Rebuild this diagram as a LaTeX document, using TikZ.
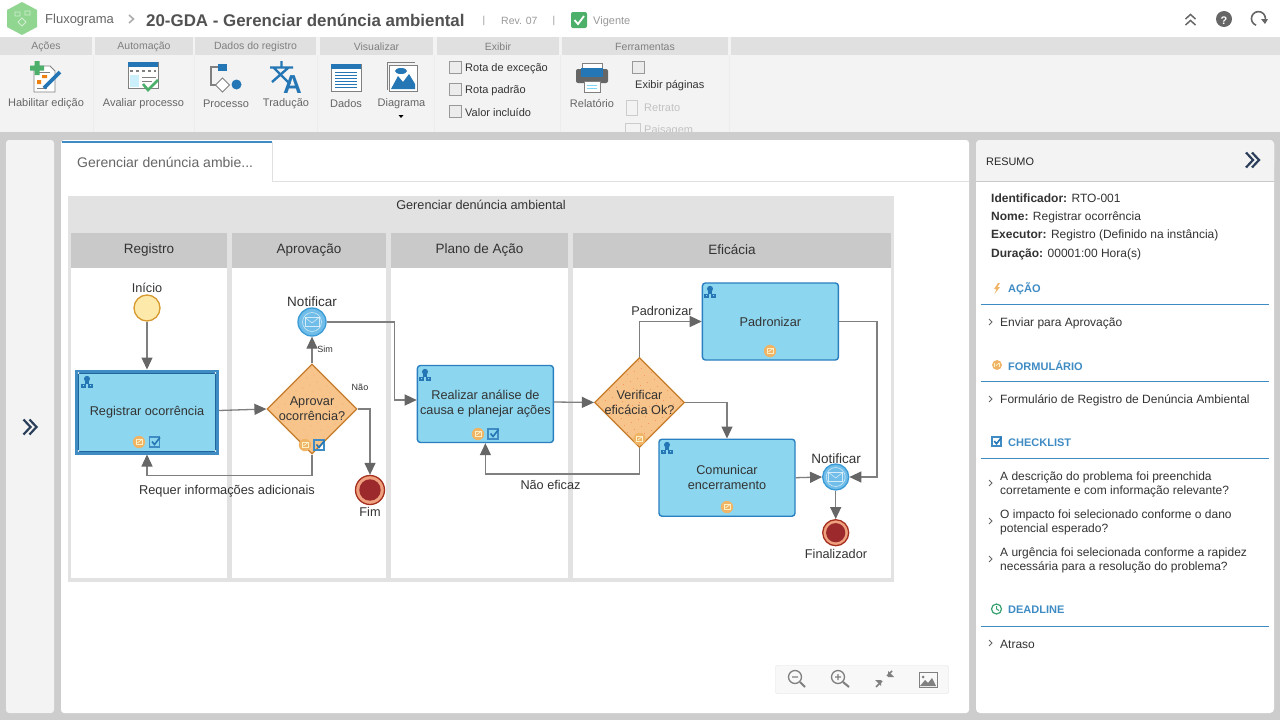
\documentclass[tikz,border=0pt]{standalone}
\usepackage{fontspec}
\setmainfont{Liberation Sans}
\usetikzlibrary{arrows.meta,shapes.geometric}
\definecolor{pagegray}{HTML}{CDCDCD}
\definecolor{stripgray}{HTML}{E0E0E0}
\definecolor{ribbongray}{HTML}{F3F3F3}
\definecolor{lanegray}{HTML}{C9C9C9}
\definecolor{poolgray}{HTML}{E2E2E2}
\definecolor{taskblue}{HTML}{8CD7EF}
\definecolor{edgeblue}{HTML}{2A7FC0}
\definecolor{iconblue}{HTML}{2576B4}
\definecolor{headblue}{HTML}{3F8CC4}
\definecolor{gateorange}{HTML}{F7C48B}
\definecolor{gateedge}{HTML}{C57D2A}
\definecolor{formorange}{HTML}{F0B466}
\definecolor{flowgray}{HTML}{7F7F7F}
\definecolor{tipgray}{HTML}{666666}
\definecolor{inktext}{HTML}{333333}
\definecolor{midtext}{HTML}{666666}
\definecolor{softtext}{HTML}{999999}
\definecolor{greencheck}{HTML}{4CAF6A}
\definecolor{startfill}{HTML}{FDE9A9}
\definecolor{startedge}{HTML}{D89A30}
\definecolor{endedge}{HTML}{A5301F}
\definecolor{endring}{HTML}{EFA07E}
\definecolor{endcore}{HTML}{9C2A2C}
\definecolor{msgfill}{HTML}{6FBDE8}
\definecolor{msgedge}{HTML}{3A9BD6}
\definecolor{chevrondark}{HTML}{2B3F5A}
\newcommand{\fsz}[1]{\fontsize{#1}{15}\selectfont}
\tikzset{
  uitext/.style={inner sep=0pt,anchor=west,yshift=-1pt,text=midtext,font=\fsz{11}},
  midui/.style={uitext,anchor=center},
  panelkey/.style={uitext,text=inktext,font=\fsz{12}},
  panelhead/.style={uitext,text=headblue,font=\fsz{11}\bfseries},
  headrule/.style={draw=headblue,line width=1pt},
  boxcheck/.style={draw=gray!80,fill=stripgray!60,line width=.8pt},
  dtext/.style={inner sep=0pt,text=inktext,font=\fsz{12.7},align=center},
  tasknode/.style={draw=edgeblue,fill=taskblue,line width=1.4pt,rounded corners=3pt,minimum width=136pt,minimum height=77pt,inner sep=0pt,text=inktext,font=\fsz{12.7},align=center},
  gatenode/.style={diamond,aspect=1,draw=gateedge,fill=gateorange,line width=1.2pt,minimum width=90pt,minimum height=90pt,inner sep=0pt,
    path picture={\foreach \i in {-6,...,6}{\foreach \j in {-6,...,6}{
      \fill[red!45!orange!70] ([shift={(\i*7+\j*3,\j*7-\i*3)}]path picture bounding box.center) circle (.35pt);}}}},
  startnode/.style={circle,draw=startedge,fill=startfill,line width=1.3pt,minimum size=26pt,inner sep=0pt},
  endnode/.style={circle,draw=endedge,fill=endring,line width=1.3pt,minimum size=#1,inner sep=0pt,
    path picture={\fill[endcore] (path picture bounding box.center) circle (.37*#1);}},
  msgnode/.style={circle,draw=msgedge,fill=msgfill,line width=1.3pt,minimum size=#1,inner sep=0pt},
  flow/.style={draw=flowgray,line width=1.3pt,-{Triangle[length=12pt,width=11pt,color=tipgray]}},
  personicon/.pic={
    \fill[iconblue] (0,-3.2) circle (3pt);
    \fill[iconblue] (-2.4,-1) rectangle (2.4,1.5);
    \fill[iconblue] (-6,1.5) rectangle (-1,6);
    \fill[iconblue] (1,1.5) rectangle (6,6);
    \fill[taskblue] (-4,3.2) rectangle (-3,4.2) (3,3.2) rectangle (4,4.2);
  },
  formicon/.pic={
    \fill[formorange] (0,0) circle (6.2pt);
    \fill[startfill!70!white] (-3.5,-3) rectangle (3.5,3);
    \fill[formorange] (-2.5,-2) rectangle (2.5,2);
    \draw[startfill!50!white,line width=.7pt] (-1.5,.8) -- (3,-2.5);
  },
  checkicon/.pic={
    \draw[headblue,line width=1.2pt] (-5,-5) rectangle (5,5);
    \draw[iconblue,line width=1.6pt] (-2.5,-.5) -- (0,2.5) -- (5.5,-4.5);
  },
  envelopeicon/.pic={
    \draw[white,opacity=.6,line width=.7pt] (0,0) circle (9.5pt);
    \draw[white,opacity=.7,line width=.6pt] (-7,-4.5) rectangle (7,4.5);
    \draw[white,opacity=.7,line width=.6pt] (-7,-4.5) -- (0,1) -- (7,-4.5);
  },
  twochevrons/.pic={
    \draw[line width=2.2pt] (-6.5,-7.5) -- (0.5,0) -- (-6.5,7.5);
    \draw[line width=2.2pt] (-.5,-7.5) -- (6.5,0) -- (-.5,7.5);
  },
  itemchevron/.pic={
    \draw[midtext,line width=.8pt] (-1.5,-3) -- (1.5,0) -- (-1.5,3);
  },
}
\begin{document}
\begin{tikzpicture}[x=1pt,y=-1pt]
  \useasboundingbox (0,0) rectangle (1280,720);
  \fill[pagegray] (0,0) rectangle (1280,720);
  \fill[white] (0,0) rectangle (1280,37);
  \fill[ribbongray] (0,37) rectangle (1280,132);
%
  \fill[green!45!gray!60!white] (22,2) -- (37,10) -- (37,27) -- (22,35) -- (7,27) -- (7,10) -- cycle;
  \draw[white,line width=.8pt,opacity=.6] (15,12) rectangle (20,16) (25,11) rectangle (30,15) (22,18) -- (26,22) -- (22,26) -- (18,22) -- cycle;
  \draw (45,19) node[uitext,font=\fsz{13}] (fluxo) {Fluxograma};
  \draw[softtext!80!white,line width=1.6pt] (129,15) -- (133.5,19) -- (129,23);
  \draw (146,19) node[uitext,text=inktext!85!white,font=\fsz{16.9}\bfseries] (titulo) {20-GDA - Gerenciar denúncia ambiental};
  \draw (484,20) node[midui,font=\fsz{10},text=softtext] (sep1) {|};
  \draw (501,20) node[uitext,font=\fsz{10.5},text=softtext] (rev) {Rev. 07};
  \draw (554,20) node[midui,font=\fsz{10},text=softtext] (sep2) {|};
  \fill[greencheck,rounded corners=2pt] (571,12) rectangle (587,28);
  \draw[white,line width=1.8pt] (574.5,20) -- (578,24) -- (584,16);
  \draw (593,20.5) node[uitext,font=\fsz{11},text=softtext] (vigente) {Vigente};
%
  \draw[midtext,line width=1.5pt] (1185.5,19) -- (1190.5,14.5) -- (1195.5,19) (1185.5,25) -- (1190.5,20.5) -- (1195.5,25);
  \fill[midtext] (1224,19) circle (8pt);
  \draw (1224,20) node[midui,text=white,font=\fsz{11}\bfseries] (ajuda) {?};
  \draw[midtext,line width=1.6pt] (1265,21) arc (-20:250:7pt);
  \fill[midtext] (1261,19) -- (1268,19) -- (1265,24) -- cycle;
%
  \foreach \xa/\xb/\lbl in {0/92/Ações,95/193/Automação,195/316/Dados do registro,320/433/Visualizar,437/559/Exibir,562/728/Ferramentas}{
    \fill[stripgray] (\xa,37) rectangle (\xb,55);
    \draw[stripgray!60,line width=.8pt] (\xb+1,55) -- (\xb+1,132);
    \draw ({(\xa+\xb)/2},46) node[midui,font=\fsz{10.5},text=gray] {\lbl};
  }
  \fill[stripgray] (731,37) rectangle (1280,55);
%
  \draw (46,103) node[midui] (habilitar) {Habilitar edição};
  \draw (143.5,103) node[midui] (avaliar) {Avaliar processo};
  \draw (226,103) node[midui] (processo) {Processo};
  \draw (286,103) node[midui] (traducao) {Tradução};
  \draw (346,103) node[midui] (dados) {Dados};
  \draw (401.5,103) node[midui] (diagrama) {Diagrama};
  \fill[black] (398.5,115) -- (403.5,115) -- (401,118) -- cycle;
  \draw (592,103) node[midui] (relatorio) {Relatório};
%
  \foreach \yy/\lbl in {67/Rota de exceção,89/Rota padrão,111/Valor incluído}{
    \draw[boxcheck] (449,\yy-6) rectangle (461,\yy+6);
    \draw (465,\yy+.5) node[uitext,text=inktext] {\lbl};
  }
  \draw[boxcheck] (632,61) rectangle (644,73);
  \draw (635,84.5) node[uitext,text=inktext] (paginas) {Exibir páginas};
  \draw[softtext!50!white] (626,100) rectangle (637,115);
  \draw (644,107) node[uitext,text=softtext!60!white] (retrato) {Retrato};
  \draw[softtext!50!white] (625,123) rectangle (640,135);
  \draw (644,129.5) node[uitext,text=softtext!60!white] (paisagem) {Paisagem};
%
  \draw[gray,fill=white,line width=.8pt] (34,66) -- (50,66) -- (55,71) -- (55,92) -- (34,92) -- cycle;
  \fill[orange!70!brown] (37,80) rectangle (41,84) (42,75) rectangle (47,78);
  \draw[gray,line width=.7pt] (37,72) -- (50,72) (37,88) -- (47,88);
  \fill[greencheck] (34.5,61) rectangle (39.5,75) (30,65.5) rectangle (44,70.5);
  \draw[iconblue,line width=3.6pt] (44,88) -- (60,72);
%
  \draw[gray,fill=white,line width=.8pt] (128,62) rectangle (158,88);
  \fill[iconblue] (128,62) rectangle (158,67);
  \fill[cyan!20!white] (130,75) rectangle (139,87);
  \draw[gray,line width=.7pt] (142,77) -- (156,77) (142,81) -- (152,81);
  \draw[gray,dashed,line width=1.2pt] (130,71) -- (156,71);
  \draw[greencheck,line width=2.6pt] (143,84) -- (148,90) -- (158,80);
%
  \draw[gray,line width=2pt] (218,67) -- (211,67) -- (211,85) -- (218,85);
  \fill[iconblue] (218,64) rectangle (227,71);
  \draw[gray,fill=white,line width=1pt] (222.5,78) -- (229.5,85) -- (222.5,92) -- (215.5,85) -- cycle;
  \fill[iconblue] (236.5,84.5) circle (5pt);
  \draw[iconblue,line width=2.4pt] (270,67.5) -- (293,67.5) (281.5,61) -- (281.5,67) (274,68) -- (290,84) (288,68) -- (272,82);
  \draw (292.5,83.5) node[midui,text=iconblue,font=\fsz{26}\bfseries] (atext) {A};
%
  \draw[gray,fill=white,line width=.8pt] (331,64) rectangle (361,91);
  \fill[iconblue] (331,64) rectangle (361,69);
  \foreach \yy in {72,75,78,81,84,87}{ \draw[iconblue,line width=.9pt] (335,\yy) -- (357,\yy); }
  \draw[gray,line width=.8pt] (387,90) -- (387,62.5) -- (415,62.5);
  \draw[gray,fill=white,line width=.8pt] (389,65) rectangle (417,91);
  \fill[iconblue] (391,89) -- (398,76) -- (403,82) -- (409,74) -- (415,84) -- (415,89) -- cycle;
  \fill[iconblue] (401,71) ellipse (6pt and 3pt);
%
  \fill[tipgray,rounded corners=2pt] (576,69) rectangle (608,83);
  \draw[gray,fill=white,line width=.7pt] (582,63) rectangle (602,70);
  \fill[iconblue] (581,68) rectangle (603,77);
  \draw[gray,fill=white,line width=.7pt] (584,81) rectangle (600,92);
  \draw[cyan!50!white,line width=.8pt] (587,85) -- (597,85) (587,88) -- (597,88);
%
  \fill[pagegray] (0,132) rectangle (1280,140);
  \fill[ribbongray,rounded corners=3pt] (6,140) rectangle (54,713);
  \pic[chevrondark] at (30,427) {twochevrons};
  \fill[white,rounded corners=3pt] (61,140) rectangle (969,713);
  \fill[white,rounded corners=4pt] (976,140) rectangle (1274,713);
%
  \draw[stripgray,line width=1pt] (272,181) -- (969,181);
  \draw[stripgray,line width=1pt] (272,142) -- (272,181);
  \draw[headblue,line width=2.4pt] (62,142) -- (272,142);
  \draw (77,161) node[uitext,font=\fsz{14}] (aba) {Gerenciar denúncia ambie...};
%
  \fill[poolgray] (68,196) rectangle (894,582);
  \foreach \xa/\xb/\lbl in {71/227/Registro,232/386/Aprovação,391/568/Plano de Ação,573/891/Eficácia}{
    \fill[lanegray] (\xa,233) rectangle (\xb,268);
    \fill[white] (\xa,268) rectangle (\xb,578);
    \draw ({(\xa+\xb)/2},250) node[dtext,font=\fsz{13.5}] {\lbl};
  }
  \draw (481,205) node[dtext] (pooltitle) {Gerenciar denúncia ambiental};
%
  \draw (147,308) node[startnode] (inicio) {};
  \draw (147,412) node[tasknode,sharp corners,draw=headblue,line width=4pt,minimum width=140pt,minimum height=81pt] (registrar) {Registrar ocorrência};
  \draw (312,409) node[gatenode,label={[dtext]center:Aprovar\\ocorrência?}] (aprovar) {};
  \draw (312,322) node[msgnode=28pt] (notificara) {};
  \draw (370,490) node[endnode=29pt] (fim) {};
  \draw (485.4,404) node[tasknode] (realizar) {Realizar análise de\\causa e planejar ações};
  \draw (639.5,402.5) node[gatenode,label={[dtext]center:Verificar\\eficácia Ok?}] (verificar) {};
  \draw (770.4,321.5) node[tasknode] (padronizar) {Padronizar};
  \draw (727,477.7) node[tasknode] (comunicar) {Comunicar\\encerramento};
  \draw (835.7,477) node[msgnode=26pt] (notificarb) {};
  \draw (835.7,532.7) node[endnode=26pt] (finalizador) {};
%
  \draw[edgeblue!80!black,line width=.8pt] ([shift={(3.5,-3.5)}]registrar.south west) rectangle ([shift={(-3.5,3.5)}]registrar.north east);
  \foreach \anc/\sx/\sy in {north west/3.5/-3.5,north east/-3.5/-3.5,south west/3.5/3.5,south east/-3.5/3.5}{
    \fill[white] ([xshift=\sx pt,yshift=\sy pt]registrar.\anc) circle (.9pt);
  }
%
  \draw (147,288) node[dtext] (inicio text) {Início};
  \draw (312,302) node[dtext,font=\fsz{13.5}] (notificara text) {Notificar};
  \draw (370,512) node[dtext] (fim text) {Fim};
  \draw (836,459) node[dtext,font=\fsz{13.5}] (notificarb text) {Notificar};
  \draw (836,554) node[dtext] (finalizador text) {Finalizador};
  \draw (325,349.5) node[dtext,font=\fsz{9}] (sim text) {Sim};
  \draw (360,387) node[dtext,font=\fsz{9}] (nao text) {Não};
  \draw (227,491.5) node[dtext,font=\fsz{12.8}] (requer text) {Requer informações adicionais};
  \draw (550.5,485) node[dtext] (ineficaz text) {Não eficaz};
  \draw (662,311) node[dtext] (padroniza text) {Padronizar};
%
  \draw[flow] (inicio) -- (registrar);
  \draw[flow] ([yshift=1.5pt]registrar.east) -- (aprovar.west);
  \draw[flow] (aprovar.north) -- (notificara.south);
  \draw[flow] (notificara.east) -- ++(68,0) |- ([yshift=4pt]realizar.west);
  \draw[flow] (aprovar.east) -| (fim.north);
  \draw[flow] (aprovar.south) -- ++(0,21) -| (registrar.south);
  \draw[flow] ([yshift=2pt]realizar.east) -- (verificar.west);
  \draw[flow] (verificar.north) |- (padronizar.west);
  \draw[flow] (verificar.east) -| (comunicar.north);
  \draw[flow] (verificar.south) -- ++(0,26) -| (realizar.south);
  \draw[flow] (padronizar.east) -- ++(38,0) |- (notificarb.east);
  \draw[flow] (comunicar.east) -- (notificarb.west);
  \draw[flow] (notificarb.south) -- (finalizador.north);
%
  \pic at (312,322) {envelopeicon};
  \pic at (835.7,477) {envelopeicon};
  \foreach \xx/\yy in {87/382,425/375,710/292,667/448}{ \pic at (\xx,\yy) {personicon}; }
  \foreach \xx/\yy in {139/442,305/445,478/434,639.5/439,770/351,727/507}{ \pic at (\xx,\yy) {formicon}; }
  \foreach \xx/\yy in {154.5/442,319/445,493/434}{ \pic at (\xx,\yy) {checkicon}; }
%
  \fill[ribbongray,rounded corners=4pt] (976,140) rectangle (1274,170);
  \fill[ribbongray] (976,160) rectangle (1274,181);
  \draw[lanegray,line width=1pt] (976,181) -- (1274,181);
  \draw (986,160.5) node[uitext,text=black!85,font=\fsz{10.9}] (resumo) {RESUMO};
  \pic[chevrondark] at (1252.5,160) {twochevrons};
  \draw (991,197.5) node[panelkey] (idkey) {\textbf{Identificador:} RTO-001};
  \draw (991,216.5) node[panelkey] (nomekey) {\textbf{Nome:} Registrar ocorrência};
  \draw (991,234.5) node[panelkey] (execkey) {\textbf{Executor:} Registro (Definido na instância)};
  \draw (991,253.5) node[panelkey] (durkey) {\textbf{Duração:} 00001:00 Hora(s)};
%
  \fill[formorange] (998,283) -- (994,289) -- (996.5,289) -- (994.5,294) -- (1000,287) -- (997.5,287) -- (1000,283) -- cycle;
  \draw (1008,288) node[panelhead] (acao) {AÇÃO};
  \draw[headrule] (981,304.5) -- (1269,304.5);
  \pic at (990.5,322) {itemchevron};
  \draw (1000,322) node[panelkey] (enviar) {Enviar para Aprovação};
%
  \pic[scale=.8] at (997,365) {formicon};
  \draw (1008,365) node[panelhead] (formulario) {FORMULÁRIO};
  \draw[headrule] (981,381.5) -- (1269,381.5);
  \pic at (990.5,399) {itemchevron};
  \draw (1000,399) node[panelkey] (formreg) {Formulário de Registro de Denúncia Ambiental};
%
  \pic[scale=.9] at (996.5,441.5) {checkicon};
  \draw (1008,441.5) node[panelhead] (checklist) {CHECKLIST};
  \draw[headrule] (981,458.5) -- (1269,458.5);
  \foreach \yy/\lbla/\lblb in {476/A descrição do problema foi preenchida/corretamente e com informação relevante?,514/O impacto foi selecionado conforme o dano/potencial esperado?,552/A urgência foi selecionada conforme a rapidez/necessária para a resolução do problema?}{
    \pic at (990.5,\yy+7) {itemchevron};
    \draw (1000,\yy) node[panelkey] {\lbla};
    \draw (1000,\yy+14.5) node[panelkey] {\lblb};
  }
%
  \draw[greencheck!70!teal,line width=1.2pt] (996.5,609) circle (5pt);
  \draw[greencheck!70!teal,line width=1pt] (996.5,606) -- (996.5,609) -- (999,610.5);
  \draw (1008,609) node[panelhead] (deadline) {DEADLINE};
  \draw[headrule] (981,626) -- (1269,626);
  \pic at (990.5,643) {itemchevron};
  \draw (1000,643) node[panelkey] (atraso) {Atraso};
%
  \draw[stripgray,fill=ribbongray!60!white,rounded corners=2pt] (775.5,665.5) rectangle (948.5,693.5);
  \draw[gray,line width=1.3pt] (795,677) circle (6.5pt) (792,677) -- (798,677);
  \draw[gray,line width=2pt] (800,682) -- (805,687);
  \draw[gray,line width=1.3pt] (838,677) circle (6.5pt) (835,677) -- (841,677) (838,674) -- (838,680);
  \draw[gray,line width=2pt] (843,682) -- (849,687);
  \draw[gray,line width=1.6pt] (876,687) -- (882,681) (887,676) -- (892,671);
  \fill[gray] (881,680) -- (881,686) -- (875,680) -- cycle (888,677) -- (888,671) -- (894,677) -- cycle;
  \draw[gray,line width=.9pt] (919,672.5) rectangle (937,687);
  \fill[gray] (920,686) -- (925,680) -- (928,683) -- (932,678) -- (936,686) -- cycle;
  \fill[gray] (923,677) circle (1.5pt);
\end{tikzpicture}
\end{document}
